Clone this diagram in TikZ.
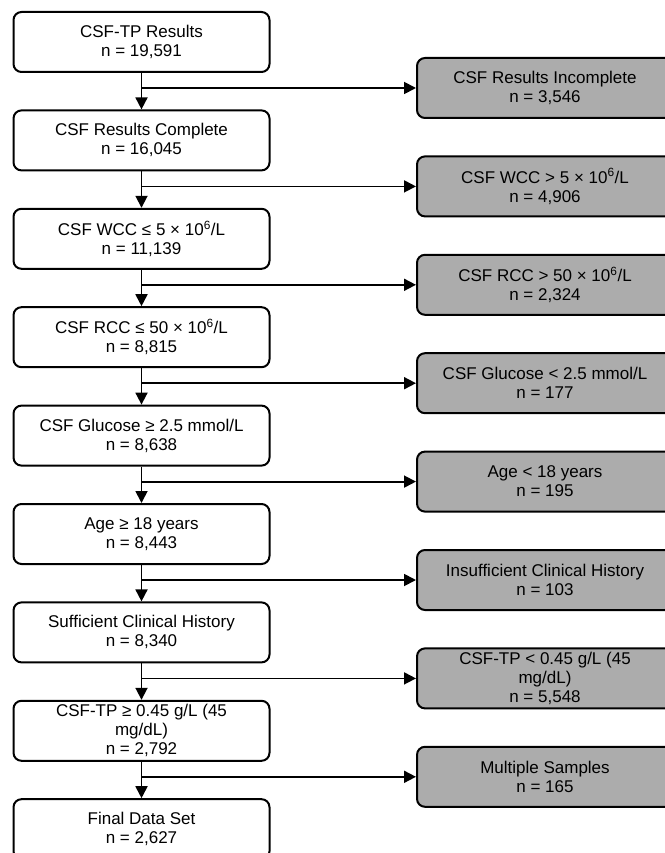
\documentclass[tikz,border=0pt]{standalone}
\usepackage{fontspec}
\setmainfont{Liberation Sans}
\usepackage{xcolor}
\usepackage{tikz}
\usetikzlibrary{positioning,backgrounds,arrows.meta}
\definecolor{grisexclu}{RGB}{172,172,172}

\begin{document}
\begin{tikzpicture}
        \tikzset{
          node distance=36.4pt and 0pt,
          boite/.style={
            fill=white,draw,align=center,line width=2pt,
            rounded corners=8pt,minimum width=256pt,minimum height=60pt,
            inner ysep=1pt,font=\fontsize{17}{19}\selectfont,text=black,
          },
          boite grise/.style={boite,fill=grisexclu},
          fleche/.style={
            -{Triangle[length=12pt,width=12pt]},line width=1.8pt,draw=black,
          },
          }
        \useasboundingbox (0,0) rectangle (664pt,-853pt);
        \node[boite] (a) at (141.5pt,-42pt) {CSF-TP Results\\n = 19,591};
        \node[boite, below=of a] (b) {CSF Results Complete\\n = 16,045};
        \node[boite, below=of b] (c) {CSF WCC ≤ 5 × 10\textsuperscript{6}/L\\n = 11,139};
        \node[boite, below=of c] (d) {CSF RCC ≤ 50 × 10\textsuperscript{6}/L\\n = 8,815};
        \node[boite, below=of d] (e) {CSF Glucose ≥ 2.5 mmol/L\\n = 8,638};
        \node[boite, below=of e] (f) {Age ≥ 18 years\\n = 8,443};
        \node[boite, below=of f] (g) {Sufficient Clinical History\\n = 8,340};
        \node[boite, below=of g] (h) {CSF-TP ≥ 0.45 g/L (45\\mg/dL)\\n = 2,792};
        \node[boite, below=of h] (i) {Final Data Set\\n = 2,627};

        % points where the exclusions branch off
        \coordinate[below=15pt of a.south] (ja);
        \coordinate[below=15pt of b.south] (jb);
        \coordinate[below=15pt of c.south] (jc);
        \coordinate[below=15pt of d.south] (jd);
        \coordinate[below=15pt of e.south] (je);
        \coordinate[below=15pt of f.south] (jf);
        \coordinate[below=15pt of g.south] (jg);
        \coordinate[below=15pt of h.south] (jh);

        \node[boite grise, right=274.5pt of ja] (ea) {CSF Results Incomplete\\n = 3,546};
        \node[boite grise, right=274.5pt of jb] (eb) {CSF WCC > 5 × 10\textsuperscript{6}/L\\n = 4,906};
        \node[boite grise, right=274.5pt of jc] (ec) {CSF RCC > 50 × 10\textsuperscript{6}/L\\n = 2,324};
        \node[boite grise, right=274.5pt of jd] (ed) {CSF Glucose < 2.5 mmol/L\\n = 177};
        \node[boite grise, right=274.5pt of je] (ee) {Age < 18 years\\n = 195};
        \node[boite grise, right=274.5pt of jf] (ef) {Insufficient Clinical History\\n = 103};
        \node[boite grise, right=274.5pt of jg] (eg) {CSF-TP < 0.45 g/L (45\\mg/dL)\\n = 5,548};
        \node[boite grise, right=274.5pt of jh] (eh) {Multiple Samples\\n = 165};

        \begin{scope}[on background layer]
            \draw[fleche] (a) -- (b);
            \draw[fleche] (b) -- (c);
            \draw[fleche] (c) -- (d);
            \draw[fleche] (d) -- (e);
            \draw[fleche] (e) -- (f);
            \draw[fleche] (f) -- (g);
            \draw[fleche] (g) -- (h);
            \draw[fleche] (h) -- (i);

            \draw[fleche] (ja) -- (ea);
            \draw[fleche] (jb) -- (eb);
            \draw[fleche] (jc) -- (ec);
            \draw[fleche] (jd) -- (ed);
            \draw[fleche] (je) -- (ee);
            \draw[fleche] (jf) -- (ef);
            \draw[fleche] (jg) -- (eg);
            \draw[fleche] (jh) -- (eh);
        \end{scope}
      \end{tikzpicture}
\end{document}
